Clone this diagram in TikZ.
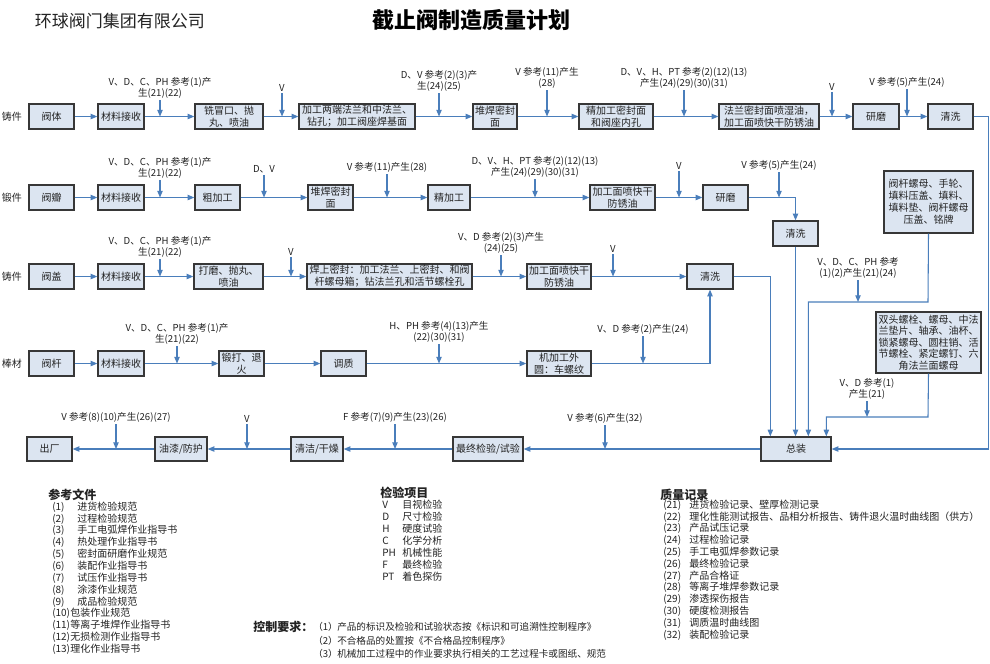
\documentclass[tikz,border=0pt]{standalone}
\usepackage{fontspec}
\setmainfont{Noto Sans CJK SC}
\usetikzlibrary{arrows.meta}
\definecolor{boxfill}{RGB}{220,229,241}
\definecolor{boxline}{RGB}{55,55,55}
\definecolor{flow}{RGB}{74,126,187}
\definecolor{txt}{RGB}{35,35,35}
\tikzset{
  box/.style={draw=boxline, line width=1pt, fill=boxfill, inner sep=1pt, align=center,
    font=\fontsize{7.5}{9}\selectfont, text=txt},
  arr/.style={draw=flow, line width=0.8pt, -{Triangle[length=5pt,width=4pt]}},
  lab/.style={font=\fontsize{7.2}{8.6}\selectfont, align=center, inner sep=1pt, anchor=south, text=txt},
  rowlab/.style={font=\fontsize{7.5}{9}\selectfont, text=txt, inner sep=0pt},
  item/.style={font=\fontsize{7.5}{9}\selectfont, inner sep=0pt, text=txt, anchor=west},
  citem/.style={font=\fontsize{7.2}{9}\selectfont, inner sep=0pt, text=txt, anchor=west},
  head/.style={font=\fontsize{9}{10}\selectfont\bfseries, inner sep=0pt, text=txt, anchor=west}
}
\newcommand\bx[7][]{\node[box,#1,minimum width={(#4-#3)*0.75pt},minimum height={(#6-#5)*0.75pt}] (#2) at ({(#3+#4)/2},{(#5+#6)/2}) {#7};}
\newcommand\insp[5]{\node[lab] (#1) at (#2,#3) {#4};\draw[arr] (#1.south) -- (#1.south |- #5);}
\begin{document}
\begin{tikzpicture}[x=0.75pt,y=-0.75pt]
\useasboundingbox (0,0) rectangle (990,664);
\fill[white] (0,0) rectangle (990,664);

% titles
\node[font=\fontsize{12.75}{14}\selectfont, text=txt, inner sep=0pt] (company) at (120,21) {环球阀门集团有限公司};
\node[font=\fontsize{16.5}{18}\selectfont\bfseries, text=black, inner sep=0pt] (title) at (471,20) {截止阀制造质量计划};

% row labels
\node[rowlab] (s1) at (12,116.5) {铸件};
\node[rowlab] (s2) at (12,197.5) {锻件};
\node[rowlab] (s3) at (12,276.5) {铸件};
\node[rowlab] (s4) at (12,363.5) {棒材};

% row 1
\bx{a1}{29}{74}{104}{129}{阀体}
\bx{b1}{98}{144}{104}{129}{材料接收}
\bx{c1}{195}{263}{104}{129}{铣冒口、抛\\丸、喷油}
\bx{d1}{299}{415}{104}{129}{加工两端法兰和中法兰、\\钻孔；加工阀座焊基面}
\bx{e1}{473}{517}{104}{129}{堆焊密封\\面}
\bx{f1}{579}{653}{104}{129}{精加工密封面\\和阀座内孔}
\bx[align=left]{g1}{719}{819}{104}{129}{法兰密封面喷湿油，\\加工面喷快干防锈油}
\bx{h1}{853}{899}{104}{129}{研磨}
\bx{i1}{928}{973}{104}{129}{清洗}

% row 2
\bx{a2}{29}{74}{185}{210}{阀瓣}
\bx{b2}{98}{144}{185}{210}{材料接收}
\bx{c2}{195}{240}{185}{210}{粗加工}
\bx{d2}{308}{353}{185}{210}{堆焊密封\\面}
\bx{e2}{428}{470}{185}{210}{精加工}
\bx{f2}{590}{655}{185}{210}{加工面喷快干\\防锈油}
\bx{g2}{703}{748}{185}{210}{研磨}
\bx{h2}{773}{818}{221}{246}{清洗}

% row 3
\bx{a3}{29}{74}{264}{289}{阀盖}
\bx{b3}{98}{144}{264}{289}{材料接收}
\bx{c3}{194}{263}{264}{289}{打磨、抛丸、\\喷油}
\bx{d3}{307}{472}{264}{289}{焊上密封：加工法兰、上密封、和阀\\杆螺母箱；钻法兰孔和活节螺栓孔}
\bx{e3}{527}{591}{264}{289}{加工面喷快干\\防锈油}
\bx{f3}{687}{733}{264}{289}{清洗}

% row 4
\bx{a4}{29}{74}{351}{376}{阀杆}
\bx{b4}{98}{144}{351}{376}{材料接收}
\bx{c4}{219}{264}{351}{376}{锻打、退\\火}
\bx{d4}{321}{366}{351}{376}{调质}
\bx{e4}{527}{591}{351}{376}{机加工外\\圆：车螺纹}

% side parts
\bx[font=\fontsize{7.5}{9}\selectfont]{p1}{884}{973}{171}{233}{阀杆螺母、手轮、\\填料压盖、填料、\\填料垫、阀杆螺母\\压盖、铭牌}
\bx[font=\fontsize{7.5}{8.7}\selectfont]{p2}{876}{981}{312}{373}{双头螺栓、螺母、中法\\兰垫片、轴承、油杯、\\锁紧螺母、圆柱销、活\\节螺栓、紧定螺钉、六\\角法兰面螺母}

% assembly and final row
\bx{zz}{761}{831}{437}{461}{总装}
\bx{o5}{27}{72}{437}{461}{出厂}
\bx{p5}{155}{207}{437}{461}{油漆/防护}
\bx{q5}{291}{343}{437}{461}{清洁/干燥}
\bx{r5}{453}{523}{437}{461}{最终检验/试验}

% chains
\foreach \u/\v in {a1/b1,b1/c1,c1/d1,d1/e1,e1/f1,f1/g1,g1/h1,h1/i1,
                   a2/b2,b2/c2,c2/d2,d2/e2,e2/f2,f2/g2,
                   a3/b3,b3/c3,c3/d3,d3/e3,e3/f3,
                   a4/b4,b4/c4,c4/d4,d4/e4}
  \draw[arr] (\u.east) -- (\v.west);
\foreach \u/\v in {zz/r5,r5/q5,q5/p5,p5/o5}
  \draw[arr] (\u.west) -- (\v.east);

% routes into assembly
\draw[arr] (i1.east) -- ++(15,0) |- (zz.east);
\draw[arr] (g2.east) -| (h2.north);
\draw[arr] (h2.south) -- (h2.south |- zz.north);
\draw[arr] (f3.east) -| ([xshift=7.5pt]zz.north west);
\draw[arr] (e4.east) -| (f3.south);
\coordinate (j1) at (928,302);
\coordinate (j2) at (928,417);
\draw[arr] (p1.south) -- (j1) -| ([xshift=36pt]zz.north west);
\draw[arr] (p2.south) -- (j2) -| ([xshift=49.5pt]zz.north west);

% inspection points row 1
\insp{l1a}{160}{100}{V、D、C、PH 参考(1)产\\生(21)(22)}{a1.east}
\insp{l1b}{282}{93}{V}{a1.east}
\insp{l1c}{439}{93}{D、V 参考(2)(3)产\\生(24)(25)}{a1.east}
\insp{l1d}{547}{90}{V 参考(11)产生\\(28)}{a1.east}
\insp{l1e}{684}{90}{D、V、H、PT 参考(2)(12)(13)\\产生(24)(29)(30)(31)}{a1.east}
\insp{l1f}{832}{92}{V}{a1.east}
\insp{l1g}{907}{89}{V 参考(5)产生(24)}{a1.east}
% row 2
\insp{l2a}{160}{180}{V、D、C、PH 参考(1)产\\生(21)(22)}{a2.east}
\insp{l2b}{264}{175}{D、V}{a2.east}
\insp{l2c}{387}{174}{V 参考(11)产生(28)}{a2.east}
\insp{l2d}{535}{179}{D、V、H、PT 参考(2)(12)(13)\\产生(24)(29)(30)(31)}{a2.east}
\insp{l2e}{679}{171}{V}{a2.east}
\insp{l2f}{779}{172}{V 参考(5)产生(24)}{a2.east}
% row 3
\insp{l3a}{160}{259}{V、D、C、PH 参考(1)产\\生(21)(22)}{a3.east}
\insp{l3b}{291}{257}{V}{a3.east}
\insp{l3c}{501}{255}{V、D 参考(2)(3)产生\\(24)(25)}{a3.east}
\insp{l3d}{613}{254}{V}{a3.east}
% row 4
\insp{l4a}{177}{346}{V、D、C、PH 参考(1)产\\生(21)(22)}{a4.east}
\insp{l4b}{439}{344}{H、PH 参考(4)(13)产生\\(22)(30)(31)}{a4.east}
\insp{l4c}{643}{336}{V、D 参考(2)产生(24)}{a4.east}
% final row
\insp{l5a}{116}{424}{V 参考(8)(10)产生(26)(27)}{o5.east}
\insp{l5b}{247}{424}{V}{o5.east}
\insp{l5c}{395}{424}{F 参考(7)(9)产生(23)(26)}{o5.east}
\insp{l5d}{605}{425}{V 参考(6)产生(32)}{o5.east}
% right side
\insp{lra}{858}{280}{V、D、C、PH 参考\\(1)(2)产生(21)(24)}{j1}
\insp{lrb}{867}{401}{V、D 参考(1)\\产生(21)}{j2}

% reference documents
\node[head] (refh) at (48,495) {参考文件};
\foreach \n/\t [count=\k from 0] in {1/进货检验规范,2/过程检验规范,3/手工电弧焊作业指导书,4/热处理作业指导书,5/密封面研磨作业规范,6/装配作业指导书,7/试压作业指导书,8/涂漆作业规范,9/成品检验规范,10/包装作业规范,11/等离子堆焊作业指导书,12/无损检测作业指导书,13/理化作业指导书}
  \node[item] (ref\n) at (52,{507+11.85*\k}) {\ifnum\n<10 \def\rw{18.75pt}\else\def\rw{13.5pt}\fi\makebox[\rw][l]{(\n)}\t};

% inspection items
\node[head] (insh) at (380,493) {检验项目};
\foreach \c/\t [count=\k from 0] in {V/目视检验,D/尺寸检验,H/硬度试验,C/化学分析,PH/机械性能,F/最终检验,PT/着色探伤}
  \node[item] (ins\k) at (382,{505+12*\k}) {\makebox[15pt][l]{\c}\t};

% quality records
\node[head] (rech) at (660,495) {质量记录};
\foreach \n/\t [count=\k from 0] in {21/进货检验记录、壁厚检测记录,22/理化性能测试报告、品相分析报告、铸件退火温时曲线图（供方）,23/产品试压记录,24/过程检验记录,25/手工电弧焊参数记录,26/最终检验记录,27/产品合格证,28/等离子堆焊参数记录,29/渗透探伤报告,30/硬度检测报告,31/调质温时曲线图,32/装配检验记录}
  \node[item] (rec\n) at (663,{505+11.8*\k}) {\makebox[19.5pt][l]{(\n)}\t};

% control requirements
\node[head] (ctrlh) at (253,627) {控制要求：};
\node[citem] (ctrl1) at (313,627) {\makebox[18pt][l]{（1）}产品的标识及检验和试验状态按《标识和可追溯性控制程序》};
\node[citem] (ctrl2) at (313,640.5) {\makebox[18pt][l]{（2）}不合格品的处置按《不合格品控制程序》};
\node[citem] (ctrl3) at (313,654) {\makebox[18pt][l]{（3）}机械加工过程中的作业要求执行相关的工艺过程卡或图纸、规范};
\end{tikzpicture}
\end{document}
